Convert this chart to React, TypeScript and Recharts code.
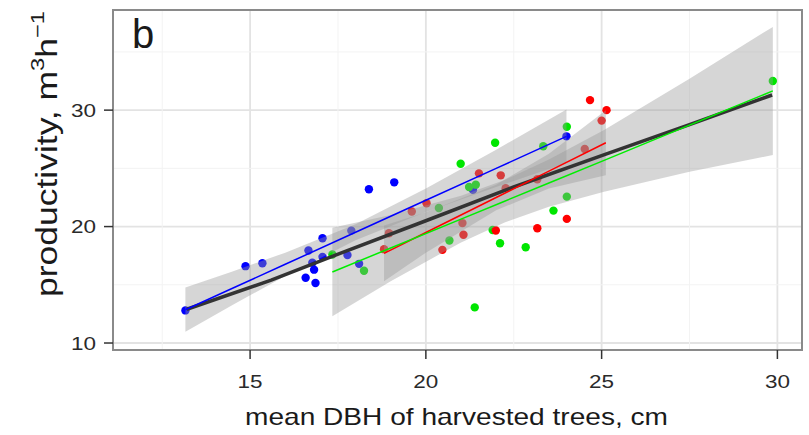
import React from 'react';
import {
  ComposedChart, Scatter, Line, Area, XAxis, YAxis, CartesianGrid, ReferenceArea, ReferenceLine,
} from 'recharts';

const xTicks = [15, 20, 25, 30];
const yTicks = [10, 20, 30];
const xMinor = [12.5, 17.5, 22.5, 27.5];
const yMinor = [15, 25, 35];

const blueX = [13.16, 14.87, 15.35, 16.58, 16.86, 16.66, 16.77, 16.82, 17.06, 17.06, 17.77, 17.88, 18.1, 18.38, 19.1, 21.34, 24.0];
const blueY = [12.8, 16.6, 16.85, 15.6, 15.15, 17.95, 16.9, 16.3, 19.0, 17.4, 17.55, 19.65, 16.8, 23.2, 23.8, 23.15, 27.75];

const greenX = [17.34, 18.24, 20.37, 20.67, 20.99, 21.23, 21.42, 21.39, 21.9, 21.97, 22.11, 22.84, 23.34, 23.63, 24.01, 24.01, 29.87];
const greenY = [17.6, 16.2, 21.6, 18.8, 25.4, 23.4, 23.6, 13.06, 19.7, 27.2, 18.57, 18.23, 26.9, 21.37, 22.57, 28.57, 32.5];

const redX = [18.81, 18.95, 19.6, 20.02, 20.47, 21.04, 21.07, 21.51, 21.99, 22.13, 22.27, 23.17, 23.17, 24.01, 24.52, 24.67, 25.0, 25.14];
const redY = [18.06, 19.43, 21.3, 22.0, 18.0, 20.3, 19.3, 24.57, 19.66, 24.4, 23.3, 19.86, 24.06, 20.66, 26.66, 30.86, 29.1, 30.0];

// fitted lines and confidence bands
const blueFitX = [13.16, 14.5, 16, 18, 20, 22, 24.0];
const blueFitY = [12.86, 14.7, 16.76, 19.51, 22.26, 25.0, 27.75];
const blueLo = [10.96, 13.26, 15.76, 18.83, 21.26, 23.4, 25.45];
const blueHi = [14.76, 16.14, 17.76, 20.19, 23.26, 26.6, 30.05];

const redFitX = [18.81, 20, 22, 23.5, 25.12];
const redFitY = [17.7, 19.49, 22.5, 24.76, 27.2];
const redLo = [15.3, 17.76, 21.4, 23.27, 24.4];
const redHi = [20.1, 21.22, 23.6, 26.25, 30.0];

const greenFitX = [17.34, 19, 21, 22.24, 23.5, 25.07, 27.5, 29.87];
const greenFitY = [16.1, 18.16, 20.64, 22.18, 23.74, 25.69, 28.71, 31.65];
const greenLo = [12.3, 15.3, 18.64, 20.36, 21.7, 23.0, 24.7, 26.15];
const greenHi = [19.9, 21.0, 22.64, 24.0, 25.75, 28.3, 32.7, 37.15];

const allFitX = [13.2, 15.6, 17.3, 20, 22.5, 25.1, 27.5, 29.85];
const allFitY = [12.9, 15.4, 17.4, 20.5, 23.4, 26.2, 28.75, 31.3];

const X_DOMAIN = [11.1, 30.7];
const Y_DOMAIN = [9.4, 38.6];

const pts = (xs: number[], ys: number[]) => xs.map((x, i) => ({ x, y: ys[i] }));
const fit = (xs: number[], ys: number[], lo?: number[], hi?: number[]) =>
  xs.map((x, i) => ({ x, y: ys[i], band: lo && hi ? [lo[i], hi[i]] : undefined }));

const blueData = pts(blueX, blueY);
const greenData = pts(greenX, greenY);
const redData = pts(redX, redY);
const blueFit = fit(blueFitX, blueFitY, blueLo, blueHi);
const redFit = fit(redFitX, redFitY, redLo, redHi);
const greenFit = fit(greenFitX, greenFitY, greenLo, greenHi);
const allFit = fit(allFitX, allFitY);

const FONT = '"Liberation Sans", Arial, sans-serif';

const dot = (props: any) => <circle cx={props.cx} cy={props.cy} r={4.2} fill={props.fill} />;

const XTick = (props: any) => (
  <text x={props.x} y={props.y + 27} textAnchor="middle" fontSize={18} fontFamily={FONT} fill="#2a2a2a"
    textLength={25} lengthAdjust="spacingAndGlyphs">
    {props.payload.value}
  </text>
);

const YTick = (props: any) => (
  <text x={props.x - 6} y={props.y + 6.5} textAnchor="end" fontSize={18} fontFamily={FONT} fill="#2a2a2a"
    textLength={25} lengthAdjust="spacingAndGlyphs">
    {props.payload.value}
  </text>
);

export default function App() {
  return (
    <div style={{ position: 'absolute', left: 0, top: 0, background: '#fff' }}>
      <ComposedChart width={809} height={435} margin={{ top: 10, right: 7, left: 0, bottom: 0 }}>
        <CartesianGrid stroke="#e3e3e3" strokeWidth={1.8} />
        {xMinor.map((v) => (
          <ReferenceLine key={'vx' + v} x={v} stroke="#f3f3f3" strokeWidth={1} zIndex={-50} />
        ))}
        {yMinor.map((v) => (
          <ReferenceLine key={'hy' + v} y={v} stroke="#f3f3f3" strokeWidth={1} zIndex={-50} />
        ))}
        <XAxis type="number" dataKey="x" domain={X_DOMAIN} ticks={xTicks} allowDataOverflow
          height={85} axisLine={false} tickSize={9} tickLine={{ stroke: '#333', strokeWidth: 1.5 }} tick={<XTick />} />
        <YAxis type="number" dataKey="y" domain={Y_DOMAIN} ticks={yTicks} allowDataOverflow
          width={113} axisLine={false} tickSize={9} tickLine={{ stroke: '#333', strokeWidth: 1.5 }} tick={<YTick />} />

        <Scatter data={blueData} fill="#0000ff" shape={dot} isAnimationActive={false} zIndex={50} />
        <Scatter data={greenData} fill="#00e600" shape={dot} isAnimationActive={false} zIndex={50} />
        <Scatter data={redData} fill="#ff0000" shape={dot} isAnimationActive={false} zIndex={50} />

        <Area data={blueFit} dataKey="band" type="linear" stroke="none" fill="#999999" fillOpacity={0.4} isAnimationActive={false} />
        <Area data={redFit} dataKey="band" type="linear" stroke="none" fill="#999999" fillOpacity={0.4} isAnimationActive={false} />
        <Area data={greenFit} dataKey="band" type="linear" stroke="none" fill="#999999" fillOpacity={0.4} isAnimationActive={false} />

        <Line data={allFit} dataKey="y" type="linear" stroke="#333333" strokeWidth={3.5} dot={false} isAnimationActive={false} />
        <Line data={blueFit} dataKey="y" type="linear" stroke="#0000ff" strokeWidth={1.5} dot={false} isAnimationActive={false} />
        <Line data={redFit} dataKey="y" type="linear" stroke="#ff0000" strokeWidth={1.5} dot={false} isAnimationActive={false} />
        <Line data={greenFit} dataKey="y" type="linear" stroke="#00ee00" strokeWidth={1.5} dot={false} isAnimationActive={false} />

        <ReferenceArea x1={X_DOMAIN[0]} x2={X_DOMAIN[1]} y1={Y_DOMAIN[0]} y2={Y_DOMAIN[1]}
          fill="none" fillOpacity={0} stroke="#8a8a8a" strokeWidth={2} ifOverflow="visible" />
      </ComposedChart>
      <svg width={809} height={435} style={{ position: 'absolute', left: 0, top: 0, pointerEvents: 'none' }}>
        <text x={132} y={48} fontSize={40} fontFamily={FONT} fill="#1a1a1a">b</text>
        <text x={456.5} y={425} textAnchor="middle" fontSize={24} fontFamily={FONT} fill="#1a1a1a"
          textLength={423} lengthAdjust="spacingAndGlyphs">
          mean DBH of harvested trees, cm
        </text>
        <g transform="translate(57,297) rotate(-90) scale(1,1.2)">
          <text x={0} y={0} fontSize={24} fontFamily={FONT} fill="#1a1a1a" textLength={286} lengthAdjust="spacingAndGlyphs">
            productivity, m<tspan fontSize={16} dy={-11}>3</tspan><tspan dy={11}>h</tspan><tspan fontSize={16} dy={-11}>−1</tspan>
          </text>
        </g>
      </svg>
    </div>
  );
}
